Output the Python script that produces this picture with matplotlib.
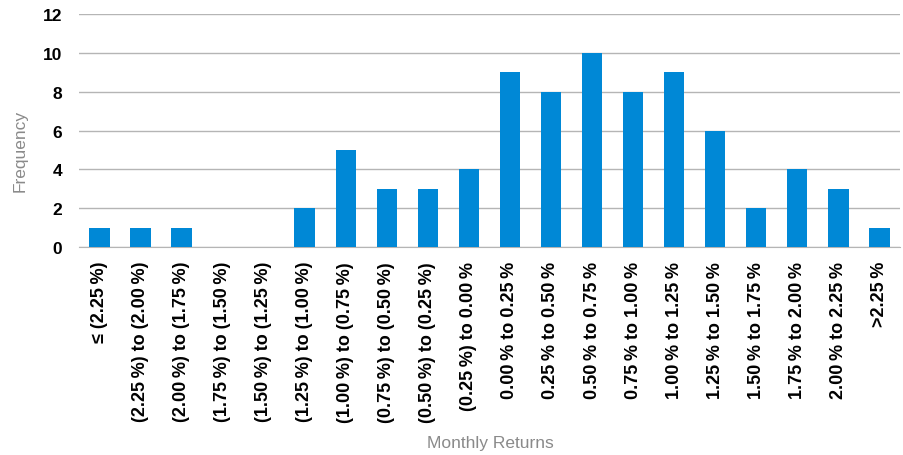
import matplotlib.pyplot as plt
import numpy as np

# Return buckets and how many months fell in each
buckets = ['≤ (2.25%)', '(2.25%) to (2.00%)', '(2.00%) to (1.75%)', '(1.75%) to (1.50%)',
           '(1.50%) to (1.25%)', '(1.25%) to (1.00%)', '(1.00%) to (0.75%)', '(0.75%) to (0.50%)',
           '(0.50%) to (0.25%)', '(0.25%) to 0.00%', '0.00% to 0.25%', '0.25% to 0.50%',
           '0.50% to 0.75%', '0.75% to 1.00%', '1.00% to 1.25%', '1.25% to 1.50%',
           '1.50% to 1.75%', '1.75% to 2.00%', '2.00% to 2.25%', '>2.25%']
frequency = [1, 1, 1, 0, 0, 2, 5, 3, 3, 4, 9, 8, 10, 8, 9, 6, 2, 4, 3, 1]
yticks = [0, 2, 4, 6, 8, 10, 12]

plt.rcParams['font.family'] = ['Liberation Sans', 'DejaVu Sans']

fig = plt.figure(figsize=(9.04, 4.56), dpi=100)
ax = fig.add_axes([0.0874, 0.456, 0.908, 0.511])

x = np.arange(len(buckets))
ax.bar(x, frequency, width=0.5, color='#0088d6', zorder=3)

ax.set_xlim(-0.5, len(buckets) - 0.5)
ax.set_ylim(0, 12)
ax.set_yticks(yticks)
ax.set_yticklabels([str(t) for t in yticks], fontsize=12.5, fontweight='bold')
ax.set_xticks(x)
# slight gap before the percent sign, as in the original
ax.set_xticklabels([b.replace('%', '\u2009%') for b in buckets],
                   rotation=90, fontsize=13, fontweight='bold')
ax.tick_params(axis='both', length=0)
ax.tick_params(axis='x', pad=10)
ax.tick_params(axis='y', pad=12)

ax.grid(axis='y', color='#b5b5b5', linewidth=1, zorder=0)
for s in ['top', 'right', 'left']:
    ax.spines[s].set_visible(False)
ax.spines['bottom'].set_color('#b5b5b5')

fig.text(0.022, 0.67, 'Frequency', color='#8a8a8a', fontsize=12.5,
         rotation=90, ha='center', va='center')
fig.text(0.543, 0.018, 'Monthly Returns', color='#8a8a8a', fontsize=12.5, ha='center')

plt.savefig('out.png', dpi=100)
